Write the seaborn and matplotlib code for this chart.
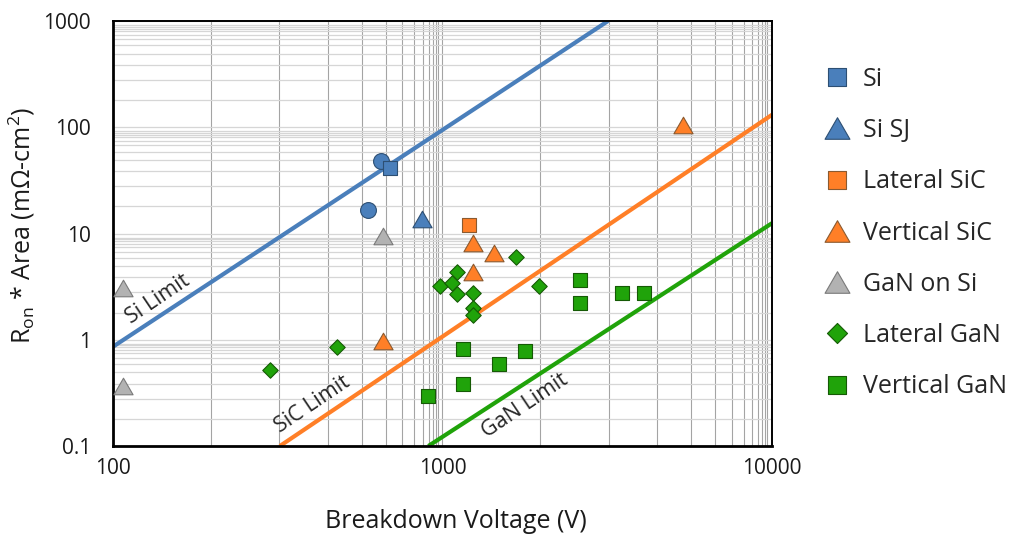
import numpy as np
import matplotlib
matplotlib.use("Agg")
import matplotlib.pyplot as plt
from matplotlib.path import Path
from matplotlib.ticker import FixedLocator, NullFormatter
import seaborn as sns

# Breakdown voltage (V) and specific on-resistance (mΩ·cm²) for each device family
si_v = [693]
si_r = [41.2]
si_circle_v = [651, 596]
si_circle_r = [48.5, 16.7]
si_sj_v = [868]
si_sj_r = [13.7]
lat_sic_v = [1206]
lat_sic_r = [12.0]
vert_sic_v = [5358, 1235, 1432, 1235, 661]
vert_sic_r = [106, 8.1, 6.5, 4.3, 0.97]
gan_si_v = [661, 107, 107]
gan_si_r = [9.5, 3.05, 0.37]
lat_gan_v = [300, 477, 982, 1069, 1104, 1104, 1235, 1235, 1235, 1671, 1960]
lat_gan_r = [0.515, 0.855, 3.2, 3.4, 4.36, 2.7, 2.76, 1.97, 1.70, 5.96, 3.2]
vert_gan_v = [2612, 2612, 3506, 4088, 1152, 1776, 1488, 1152, 904]
vert_gan_r = [3.64, 2.2, 2.73, 2.73, 0.826, 0.784, 0.596, 0.38, 0.293]

# Theoretical material limits, each given by its two end points
si_limit_v = [100, 3180]
si_limit_r = [0.86, 1000]
sic_limit_v = [321, 10000]
sic_limit_r = [0.1, 131]
gan_limit_v = [906, 10000]
gan_limit_r = [0.1, 12.5]

x_ticks = [100, 1000, 10000]
x_tick_labels = ["100", "1000", "10000"]
y_ticks = [0.1, 1, 10, 100, 1000]
y_tick_labels = ["0.1", "1", "10", "100", "1000"]

BLUE = "#4a7fbb"
ORANGE = "#ff7f27"
GREY = "#b2b2b2"
GREEN = "#20a30a"

sns.set_style("white")
plt.rcParams["font.family"] = ["Open Sans", "DejaVu Sans"]
plt.rcParams["mathtext.fontset"] = "custom"
plt.rcParams["mathtext.rm"] = "Open Sans"

fig = plt.figure(figsize=(10.2, 5.34), dpi=100)
ax = fig.add_axes([113 / 1020, 1 - 446 / 534, 659 / 1020, 425 / 534])
ax.set_xscale("log")
ax.set_yscale("log")
ax.set_xlim(100, 10000)
ax.set_ylim(0.1, 1000)

# Grid lines that crowd towards the top of every decade
x_minor = [10 ** (d + 1 - 0.704 ** k) for d in (2, 3) for k in range(1, 13)]
y_minor = [10 ** (d + 1 - 0.745 ** k) for d in (-1, 0, 1, 2) for k in range(1, 12)]
ax.xaxis.set_minor_locator(FixedLocator(x_minor))
ax.yaxis.set_minor_locator(FixedLocator(y_minor))
ax.xaxis.set_minor_formatter(NullFormatter())
ax.yaxis.set_minor_formatter(NullFormatter())
ax.set_xticks(x_ticks, labels=x_tick_labels)
ax.set_yticks(y_ticks, labels=y_tick_labels)
ax.grid(True, which="both", axis="x", color="#a4a4a4", lw=0.8)
ax.grid(True, which="both", axis="y", color="#d6d6d6", lw=0.9)
ax.set_axisbelow(True)
ax.tick_params(which="both", length=0)
ax.tick_params(axis="x", pad=9, labelsize=15, labelcolor="#1a1a1a")
ax.tick_params(axis="y", pad=16, labelsize=15, labelcolor="#1a1a1a")

for side, lw in (("left", 2.0), ("bottom", 2.0), ("top", 1.4), ("right", 1.4)):
    ax.spines[side].set_visible(True)
    ax.spines[side].set_color("black")
    ax.spines[side].set_linewidth(lw)

# Limit lines
for lv, lr, c in ((si_limit_v, si_limit_r, BLUE),
                  (sic_limit_v, sic_limit_r, ORANGE),
                  (gan_limit_v, gan_limit_r, GREEN)):
    sns.lineplot(x=lv, y=lr, color=c, lw=3.0, ax=ax, zorder=2, solid_capstyle="butt")

for tx, ty, t in ((137, 2.4, "Si Limit"), (404, 0.245, "SiC Limit"),
                  (1780, 0.238, "GaN Limit")):
    ax.text(tx, ty, t, rotation=34, fontsize=15.5, ha="center", va="center",
            rotation_mode="anchor", zorder=3)

tri = Path([(-1, -0.866), (1, -0.866), (0, 0.866), (-1, -0.866)], closed=True)

series = [
    (si_circle_v, si_circle_r, None, "o", BLUE, "#2d4f73", 130),
    (si_v, si_r, "Si", "s", BLUE, "#2d4f73", 100),
    (si_sj_v, si_sj_r, "Si SJ", tri, BLUE, "#2d4f73", 190),
    (lat_sic_v, lat_sic_r, "Lateral SiC", "s", ORANGE, "#8a5a30", 100),
    (vert_sic_v, vert_sic_r, "Vertical SiC", tri, ORANGE, "#8a5a30", 190),
    (gan_si_v, gan_si_r, "GaN on Si", tri, GREY, "#7a7a7a", 190),
    (lat_gan_v, lat_gan_r, "Lateral GaN", "D", GREEN, "#155a05", 62),
    (vert_gan_v, vert_gan_r, "Vertical GaN", "s", GREEN, "#155a05", 100),
]
for xv, yv, lab, mk, fc, ec, size in series:
    kw = {} if lab is None else {"label": lab}
    sns.scatterplot(x=xv, y=yv, marker=mk, color=fc, edgecolor=ec, linewidth=0.8,
                    s=size, ax=ax, zorder=4, legend=False, **kw)

handles, labels = ax.get_legend_handles_labels()
leg = ax.legend(handles, labels, loc="center left",
                bbox_to_anchor=(812 / 1020, 1 - 233 / 534),
                bbox_transform=fig.transFigure, frameon=False, fontsize=18,
                borderpad=0, handlelength=1.0, handletextpad=0.55,
                labelspacing=1.05, markerscale=1.3, scatteryoffsets=[0.5])

ax.set_xlabel("Breakdown Voltage (V)", fontsize=18, color="#1a1a1a")
ax.set_ylabel(r"R$_{\mathregular{on}}$ * Area (mΩ-cm$^{\mathregular{2}}$)",
              fontsize=18, color="#1a1a1a")
ax.xaxis.set_label_coords(0.52, -0.148)
ax.yaxis.set_label_coords(-0.116, 0.52)

fig.savefig("out.png", dpi=100, facecolor="white")
